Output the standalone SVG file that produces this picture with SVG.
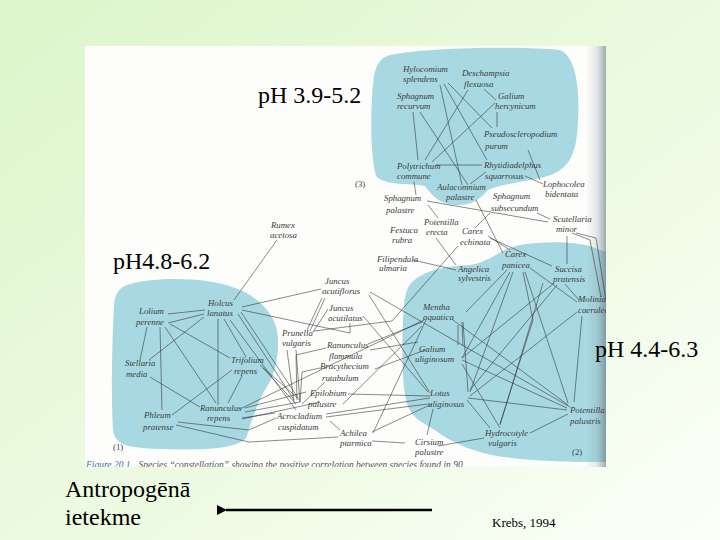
<svg xmlns="http://www.w3.org/2000/svg" width="720" height="540" viewBox="0 0 720 540">
<defs>
<linearGradient id="bg" x1="0" y1="0" x2="1" y2="1">
<stop offset="0" stop-color="#ddf5ca"/>
<stop offset="0.6" stop-color="#eefbe4"/>
<stop offset="1" stop-color="#fbfff8"/>
</linearGradient>
<linearGradient id="edge" x1="0" y1="0" x2="1" y2="0">
<stop offset="0" stop-color="#7a8a8c" stop-opacity="0"/>
<stop offset="0.5" stop-color="#8a9a9c" stop-opacity="0.2"/>
<stop offset="1" stop-color="#5f7073" stop-opacity="0.6"/>
</linearGradient>
<clipPath id="fig"><rect x="85" y="46" width="521" height="421"/></clipPath>
<marker id="ah" viewBox="0 0 10 10" refX="1" refY="5" markerWidth="4" markerHeight="4" orient="auto-start-reverse">
<path d="M0 5 L10 0 L10 10 Z" fill="#000"/>
</marker>
<style>
.sp{font-family:"Liberation Serif","Times New Roman",serif;font-style:italic;font-size:8.8px;fill:#3a3a3a}
.num{font-family:"Liberation Serif","Times New Roman",serif;font-size:8.8px;fill:#444}
.blob{fill:#a8d9e2}
.c line,.c polyline{stroke:#2e2e2e;stroke-width:0.7;fill:none;stroke-opacity:0.8}
</style>
</defs>
<rect width="720" height="540" fill="url(#bg)"/>
<g clip-path="url(#fig)">
<rect x="85" y="46" width="521" height="421" fill="#fdfdfb"/>
<path id="blob3" class="blob" d="M390 55 C430 47 520 46 560 50 C576 56 580 90 578 120 C577 150 572 168 548 176 C525 182 500 184 488 190 C480 200 470 206 455 205 C440 204 432 196 425 186 C410 183 385 186 376 176 C369 150 371 100 374 75 C377 62 382 57 390 55 Z"/>
<path id="blob1" class="blob" d="M130 284 C160 276 210 278 235 288 C255 295 272 310 277 330 C280 350 276 372 268 385 C258 400 252 420 246 438 C235 450 200 450 160 449 C130 448 115 446 113 430 C111 400 112 340 114 305 C115 292 120 287 130 284 Z"/>
<path id="blob2" class="blob" d="M412 282 C425 270 445 266 470 265 C490 262 498 250 520 245 C550 240 585 242 600 250 L608 252 L608 462 L590 462 C560 462 505 460 480 452 C460 446 445 438 435 430 C420 422 409 415 406 400 C401 375 402 330 404 305 C405 294 407 288 412 282 Z"/>
<rect x="586" y="46" width="20" height="421" fill="url(#edge)"/>
<g class="c" id="connectors">
<line x1="413" y1="112" x2="418" y2="160"/>
<line x1="420" y1="112" x2="468" y2="185"/>
<line x1="440" y1="85" x2="462" y2="185"/>
<line x1="444" y1="84" x2="487" y2="160"/>
<line x1="448" y1="83" x2="492" y2="128"/>
<line x1="468" y1="90" x2="425" y2="160"/>
<line x1="484" y1="89" x2="496" y2="100"/>
<line x1="495" y1="103" x2="432" y2="162"/>
<line x1="497" y1="112" x2="497" y2="127"/>
<line x1="436" y1="165" x2="482" y2="165"/>
<line x1="528" y1="150" x2="540" y2="180"/>
<line x1="525" y1="176" x2="543" y2="184"/>
<line x1="486" y1="172" x2="470" y2="184"/>
<line x1="414" y1="182" x2="416" y2="195"/>
<line x1="427" y1="201" x2="548" y2="222"/>
<line x1="428" y1="205" x2="438" y2="218"/>
<line x1="476" y1="200" x2="503" y2="253"/>
<line x1="475" y1="228" x2="490" y2="213"/>
<line x1="488" y1="236" x2="510" y2="250"/>
<line x1="490" y1="238" x2="552" y2="266"/>
<line x1="537" y1="213" x2="550" y2="219"/>
<line x1="436" y1="238" x2="456" y2="265"/>
<line x1="413" y1="260" x2="456" y2="270"/>
<line x1="567" y1="236" x2="567" y2="264"/>
<polyline points="572,233 590,240 601,297"/>
<polyline points="576,233 596,238 606,300"/>
<polyline points="314,331 392,321 458,246"/>
<line x1="277" y1="240" x2="234" y2="300"/>
<line x1="168" y1="314" x2="205" y2="310"/>
<line x1="168" y1="323" x2="204" y2="314"/>
<line x1="204" y1="317" x2="149" y2="360"/>
<line x1="218" y1="319" x2="218" y2="405"/>
<line x1="224" y1="319" x2="246" y2="357"/>
<line x1="238" y1="314" x2="294" y2="400"/>
<line x1="241" y1="312" x2="298" y2="398"/>
<line x1="230" y1="320" x2="296" y2="410"/>
<line x1="242" y1="307" x2="321" y2="289"/>
<polyline points="242,310 350,333 350,323"/>
<line x1="147" y1="327" x2="140" y2="360"/>
<line x1="160" y1="327" x2="162" y2="410"/>
<line x1="165" y1="327" x2="216" y2="403"/>
<line x1="170" y1="324" x2="230" y2="358"/>
<line x1="150" y1="377" x2="200" y2="407"/>
<line x1="242" y1="376" x2="228" y2="403"/>
<line x1="232" y1="370" x2="172" y2="415"/>
<line x1="260" y1="365" x2="300" y2="400"/>
<line x1="263" y1="368" x2="296" y2="404"/>
<line x1="245" y1="408" x2="306" y2="392"/>
<line x1="245" y1="412" x2="300" y2="402"/>
<line x1="240" y1="409" x2="424" y2="320"/>
<line x1="242" y1="419" x2="320" y2="402"/>
<polyline points="178,422 249,430 276,418"/>
<polyline points="176,425 249,442 338,437"/>
<line x1="242" y1="418" x2="275" y2="413"/>
<line x1="322" y1="298" x2="307" y2="330"/>
<line x1="325" y1="298" x2="310" y2="331"/>
<line x1="328" y1="309" x2="313" y2="332"/>
<line x1="287" y1="350" x2="294" y2="402"/>
<line x1="296" y1="350" x2="300" y2="402"/>
<polyline points="326,348 296,355 297,400"/>
<polyline points="320,368 302,372 300,402"/>
<line x1="325" y1="382" x2="302" y2="404"/>
<line x1="369" y1="295" x2="430" y2="393"/>
<line x1="370" y1="292" x2="570" y2="407"/>
<line x1="363" y1="316" x2="428" y2="392"/>
<line x1="368" y1="344" x2="422" y2="322"/>
<line x1="370" y1="350" x2="418" y2="342"/>
<line x1="375" y1="369" x2="425" y2="350"/>
<line x1="348" y1="394" x2="430" y2="396"/>
<line x1="343" y1="404" x2="422" y2="326"/>
<line x1="326" y1="414" x2="430" y2="398"/>
<line x1="326" y1="417" x2="428" y2="404"/>
<line x1="330" y1="421" x2="340" y2="430"/>
<line x1="372" y1="432" x2="432" y2="404"/>
<line x1="372" y1="441" x2="405" y2="443"/>
<line x1="373" y1="433" x2="426" y2="320"/>
<line x1="510" y1="272" x2="462" y2="358"/>
<line x1="513" y1="272" x2="470" y2="392"/>
<line x1="507" y1="270" x2="466" y2="312"/>
<polyline points="523,272 533,320 500,424"/>
<line x1="525" y1="272" x2="568" y2="403"/>
<line x1="530" y1="268" x2="577" y2="302"/>
<line x1="553" y1="284" x2="462" y2="358"/>
<line x1="557" y1="285" x2="470" y2="390"/>
<line x1="565" y1="284" x2="579" y2="300"/>
<line x1="577" y1="312" x2="470" y2="396"/>
<line x1="582" y1="316" x2="574" y2="402"/>
<line x1="453" y1="320" x2="568" y2="405"/>
<line x1="462" y1="360" x2="567" y2="408"/>
<line x1="462" y1="364" x2="500" y2="428"/>
<line x1="433" y1="409" x2="427" y2="435"/>
<line x1="530" y1="433" x2="568" y2="414"/>
<line x1="438" y1="446" x2="484" y2="438"/>
<line x1="467" y1="400" x2="490" y2="428"/>
<line x1="458" y1="325" x2="458" y2="345"/>
<line x1="462" y1="322" x2="463" y2="346"/>
<line x1="463" y1="322" x2="468" y2="392"/>
<line x1="468" y1="398" x2="567" y2="410"/>
<line x1="543" y1="283" x2="500" y2="425"/>
</g>
<g id="n-hylocomium"><text class="sp" x="403" y="72">Hylocomium</text><text class="sp" x="403" y="82">splendens</text></g>
<g id="n-deschampsia"><text class="sp" x="462" y="76">Deschampsia</text><text class="sp" x="464" y="87">flexuosa</text></g>
<g id="n-sphagnum-recurvum"><text class="sp" x="397" y="99">Sphagnum</text><text class="sp" x="397" y="109">recurvum</text></g>
<g id="n-galium-hercynicum"><text class="sp" x="498" y="99">Galium</text><text class="sp" x="495" y="109">hercynicum</text></g>
<g id="n-pseudoscleropodium"><text class="sp" x="484" y="137">Pseudoscleropodium</text><text class="sp" x="485" y="149">purum</text></g>
<g id="n-polytrichum"><text class="sp" x="397" y="169">Polytrichum</text><text class="sp" x="397" y="179">commune</text></g>
<g id="n-rhytidiadelphus"><text class="sp" x="484" y="168">Rhytidiadelphus</text><text class="sp" x="485" y="179">squarrosus</text></g>
<g id="n-aulacomnium"><text class="sp" x="437" y="190">Aulacomnium</text><text class="sp" x="446" y="200">palastre</text></g>
<g id="n-label3"><text class="num" x="355" y="187">(3)</text></g>
<g id="n-lophocolea"><text class="sp" x="543" y="187">Lophocolea</text><text class="sp" x="545" y="197">bidentata</text></g>
<g id="n-sphagnum-palastre"><text class="sp" x="384" y="201">Sphagnum</text><text class="sp" x="386" y="213">palastre</text></g>
<g id="n-sphagnum-subsecundum"><text class="sp" x="493" y="199">Sphagnum</text><text class="sp" x="491" y="211">subsecundum</text></g>
<g id="n-potentilla-erecta"><text class="sp" x="424" y="225">Potentilla</text><text class="sp" x="426" y="235">erecta</text></g>
<g id="n-festuca"><text class="sp" x="390" y="233">Festuca</text><text class="sp" x="392" y="243">rubra</text></g>
<g id="n-carex-echinata"><text class="sp" x="462" y="234">Carex</text><text class="sp" x="460" y="245">echinata</text></g>
<g id="n-scutellaria"><text class="sp" x="553" y="222">Scutellaria</text><text class="sp" x="556" y="232">minor</text></g>
<g id="n-filipendula"><text class="sp" x="377" y="262">Filipendula</text><text class="sp" x="379" y="271">ulmaria</text></g>
<g id="n-rumex"><text class="sp" x="271" y="228">Rumex</text><text class="sp" x="270" y="238">acetosa</text></g>
<g id="n-carex-panicea"><text class="sp" x="505" y="257">Carex</text><text class="sp" x="502" y="268">panicea</text></g>
<g id="n-angelica"><text class="sp" x="458" y="272">Angelica</text><text class="sp" x="458" y="281">sylvestris</text></g>
<g id="n-succisa"><text class="sp" x="555" y="272">Succisa</text><text class="sp" x="553" y="282">pratensis</text></g>
<g id="n-molinia"><text class="sp" x="578" y="302">Molinia</text><text class="sp" x="578" y="313">caerulea</text></g>
<g id="n-mentha"><text class="sp" x="423" y="310">Mentha</text><text class="sp" x="423" y="320">aquatica</text></g>
<g id="n-galium-uliginosum"><text class="sp" x="419" y="352">Galium</text><text class="sp" x="415" y="362">uliginosum</text></g>
<g id="n-lotus"><text class="sp" x="430" y="396">Lotus</text><text class="sp" x="428" y="407">uliginosus</text></g>
<g id="n-potentilla-palustris"><text class="sp" x="570" y="413">Potentilla</text><text class="sp" x="570" y="424">palustris</text></g>
<g id="n-hydrocotyle"><text class="sp" x="485" y="436">Hydrocotyle</text><text class="sp" x="488" y="446">vulgaris</text></g>
<g id="n-cirsium"><text class="sp" x="415" y="445">Cirsium</text><text class="sp" x="415" y="455">palustre</text></g>
<g id="n-label2"><text class="num" x="572" y="455">(2)</text></g>
<g id="n-juncus-acutiflorus"><text class="sp" x="325" y="284">Juncus</text><text class="sp" x="322" y="294">acutiflorus</text></g>
<g id="n-juncus-acutilatus"><text class="sp" x="329" y="311">Juncus</text><text class="sp" x="328" y="321">acutilatus</text></g>
<g id="n-prunella"><text class="sp" x="282" y="336">Prunella</text><text class="sp" x="282" y="346">vulgaris</text></g>
<g id="n-ranunculus-flammula"><text class="sp" x="327" y="348">Ranunculus</text><text class="sp" x="329" y="359">flammula</text></g>
<g id="n-bracythecium"><text class="sp" x="320" y="369">Bracythecium</text><text class="sp" x="322" y="381">rutabulum</text></g>
<g id="n-epilobium"><text class="sp" x="310" y="396">Epilobium</text><text class="sp" x="308" y="407">palustre</text></g>
<g id="n-acrocladium"><text class="sp" x="277" y="419">Acrocladium</text><text class="sp" x="278" y="430">cuspidatum</text></g>
<g id="n-achilea"><text class="sp" x="340" y="436">Achilea</text><text class="sp" x="340" y="446">ptarmica</text></g>
<g id="n-holcus"><text class="sp" x="208" y="306">Holcus</text><text class="sp" x="207" y="316">lanatus</text></g>
<g id="n-lolium"><text class="sp" x="139" y="314">Lolium</text><text class="sp" x="136" y="325">perenne</text></g>
<g id="n-stellaria"><text class="sp" x="125" y="366">Stellaria</text><text class="sp" x="126" y="377">media</text></g>
<g id="n-trifolium"><text class="sp" x="231" y="363">Trifolium</text><text class="sp" x="234" y="374">repens</text></g>
<g id="n-ranunculus-repens"><text class="sp" x="200" y="411">Ranunculus</text><text class="sp" x="207" y="421">repens</text></g>
<g id="n-phleum"><text class="sp" x="144" y="418">Phleum</text><text class="sp" x="143" y="430">pratense</text></g>
<g id="n-label1"><text class="num" x="113" y="450">(1)</text></g>
<text x="86" y="468" font-family="Liberation Serif, Times New Roman, serif" font-style="italic" font-size="9.5"><tspan fill="#3d6fb3">Figure 20.1</tspan><tspan fill="#555" dx="8">Species “constellation” showing the positive correlation between species found in 90</tspan></text>
</g>
<g id="ph-labels" font-family="Liberation Serif, Times New Roman, serif" font-size="24" fill="#000">
<text x="258" y="103">pH 3.9-5.2</text>
<text x="113" y="269">pH4.8-6.2</text>
<text x="595" y="357">pH 4.4-6.3</text>
</g>
<g id="impact" font-family="Liberation Serif, Times New Roman, serif" fill="#000">
<text x="65" y="497" font-size="24">Antropogēnā</text>
<text x="65" y="525" font-size="24">ietekme</text>
<line x1="432" y1="510" x2="226" y2="510" stroke="#000" stroke-width="2.5" marker-end="url(#ah)"/>
<text x="492" y="527" font-size="13">Krebs, 1994</text>
</g>
</svg>
